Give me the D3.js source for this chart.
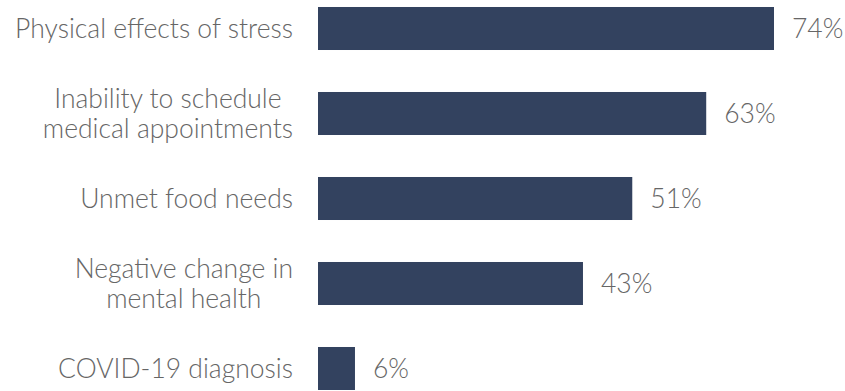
<!DOCTYPE html>
<html><head><meta charset="utf-8">
<script src="https://cdn.jsdelivr.net/npm/d3@7"></script>
<style>body{margin:0;background:#fff}svg{display:block}text{font-family:Lato,sans-serif;font-weight:300}</style>
</head><body><svg id="c" width="845" height="391"></svg>
<script>
const categories = [
  ["Physical effects of stress"],
  ["Inability to schedule", "medical appointments"],
  ["Unmet food needs"],
  ["Negative change in", "mental health"],
  ["COVID-19 diagnosis"]
];
const values = [74, 63, 51, 43, 6];
const valueLabels = ["74%", "63%", "51%", "43%", "6%"];

const svg = d3.select("#c");
const x = d3.scaleLinear().domain([0, 74]).range([318, 774]);
const y = d3.scaleBand().domain(d3.range(values.length)).range([-14, 411]).paddingInner(0.494).paddingOuter(0.247);
const fs = 26.5;

svg.selectAll("rect.bar").data(values).join("rect")
  .attr("x", x(0)).attr("y", (d, i) => y(i))
  .attr("width", d => x(d) - x(0)).attr("height", y.bandwidth())
  .attr("fill", "#33425f");

svg.selectAll("text.val").data(values).join("text")
  .attr("x", d => x(d) + 18).attr("y", (d, i) => y(i) + y.bandwidth() / 2)
  .attr("dy", "0.36em").attr("font-size", fs).attr("fill", "#666")
  .text((d, i) => valueLabels[i]);

const labelRight = 293;
const lab = svg.selectAll("text.lab").data(categories).join("text")
  .attr("text-anchor", "middle").attr("font-size", fs).attr("fill", "#666");
lab.each(function(lines, i) {
  const t = d3.select(this);
  const cy = y(i) + y.bandwidth() / 2;
  const lh = 29.5;
  const spans = lines.map((s, k) => t.append("tspan")
      .attr("y", cy + (k - (lines.length - 1) / 2) * lh)
      .attr("dy", "0.36em").text(s));
  const w = d3.max(spans, sp => sp.node().getComputedTextLength());
  spans.forEach(sp => sp.attr("x", labelRight - w / 2));
});
</script></body></html>
